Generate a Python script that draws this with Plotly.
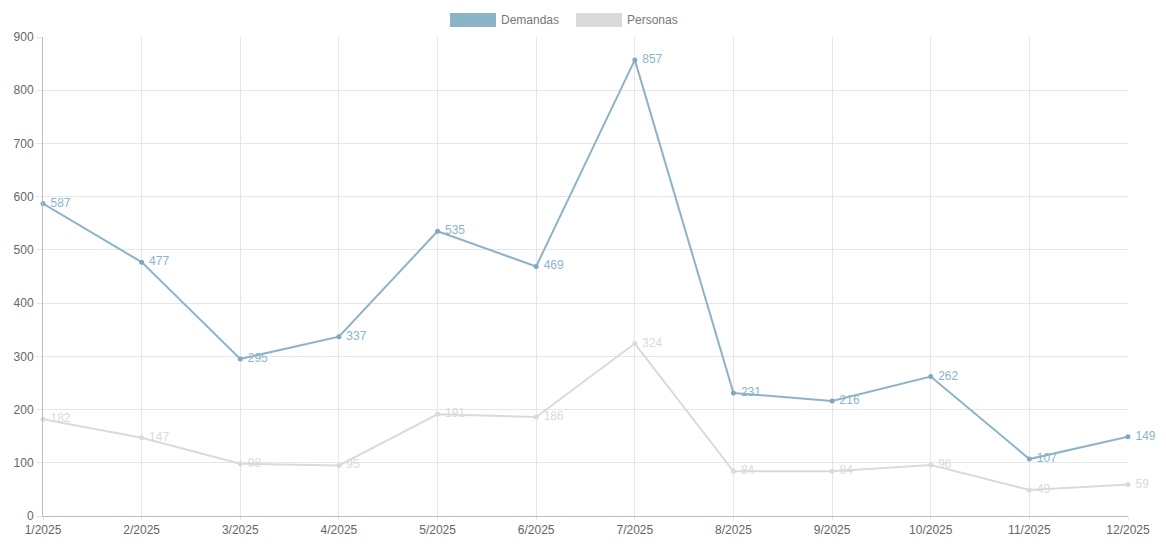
import plotly.graph_objects as go

meses = ["1/2025", "2/2025", "3/2025", "4/2025", "5/2025", "6/2025",
         "7/2025", "8/2025", "9/2025", "10/2025", "11/2025", "12/2025"]
demandas = [587, 477, 295, 337, 535, 469, 857, 231, 216, 262, 107, 149]
personas = [182, 147, 98, 95, 191, 186, 324, 84, 84, 96, 49, 59]

c_dem = "#8cb4c9"
c_per = "#dadada"
FONT = "Liberation Sans, Arial"

fig = go.Figure()
fig.add_trace(go.Scatter(
    x=meses, y=personas, name="Personas", mode="lines+markers+text",
    line=dict(color=c_per, width=2), marker=dict(color=c_per, size=5),
    text=["\u00a0" + str(v) for v in personas], textposition="middle right",
    textfont=dict(color=c_per, size=12, family=FONT),
    cliponaxis=False, showlegend=False))
fig.add_trace(go.Scatter(
    x=meses, y=demandas, name="Demandas", mode="lines+markers+text",
    line=dict(color=c_dem, width=2), marker=dict(color="#7fa9bf", size=5),
    text=["\u00a0" + str(v) for v in demandas], textposition="middle right",
    textfont=dict(color=c_dem, size=12, family=FONT),
    cliponaxis=False, showlegend=False))

# page has an 8px body margin, so the figure is placed at (8, 8)
W, H = 1150, 536
l, r, t, b = 35, 30, 29, 28
pw, ph = W - l - r, H - t - b

legend_items = [("Demandas", c_dem, 442), ("Personas", c_per, 568)]
shapes = []
annotations = []
for name, col, px in legend_items:
    shapes.append(dict(type="rect", xref="paper", yref="paper",
                       x0=(px - l) / pw, x1=(px + 46 - l) / pw,
                       y0=(H - b - 19) / ph, y1=(H - b - 5) / ph,
                       fillcolor=col, line=dict(width=0)))
    annotations.append(dict(xref="paper", yref="paper",
                            x=(px + 49 - l) / pw, y=(H - b - 12) / ph,
                            text=name, showarrow=False, xanchor="left",
                            yanchor="middle",
                            font=dict(color="#777777", size=12, family=FONT)))

fig.update_layout(
    width=W, height=H,
    margin=dict(l=l, r=r, t=t, b=b, autoexpand=False),
    paper_bgcolor="white", plot_bgcolor="white",
    font=dict(family=FONT, size=12, color="#666666"),
    shapes=shapes, annotations=annotations,
    xaxis=dict(type="category", range=[0, 11], showgrid=True,
               gridcolor="#e6e6e6", gridwidth=1, showline=True,
               linecolor="#bdbdbd", linewidth=1, ticks="outside",
               ticklen=3, tickcolor="#e6e6e6", zeroline=False,
               automargin=False,
               tickfont=dict(color="#666666", size=12)),
    yaxis=dict(range=[0, 900], dtick=100, showgrid=True,
               gridcolor="#e6e6e6", gridwidth=1, showline=True,
               linecolor="#bdbdbd", linewidth=1, ticks="outside",
               ticklen=6, tickcolor="#e6e6e6", zeroline=False,
               automargin=False,
               tickfont=dict(color="#666666", size=12)),
)

fig.write_html("out.html")
